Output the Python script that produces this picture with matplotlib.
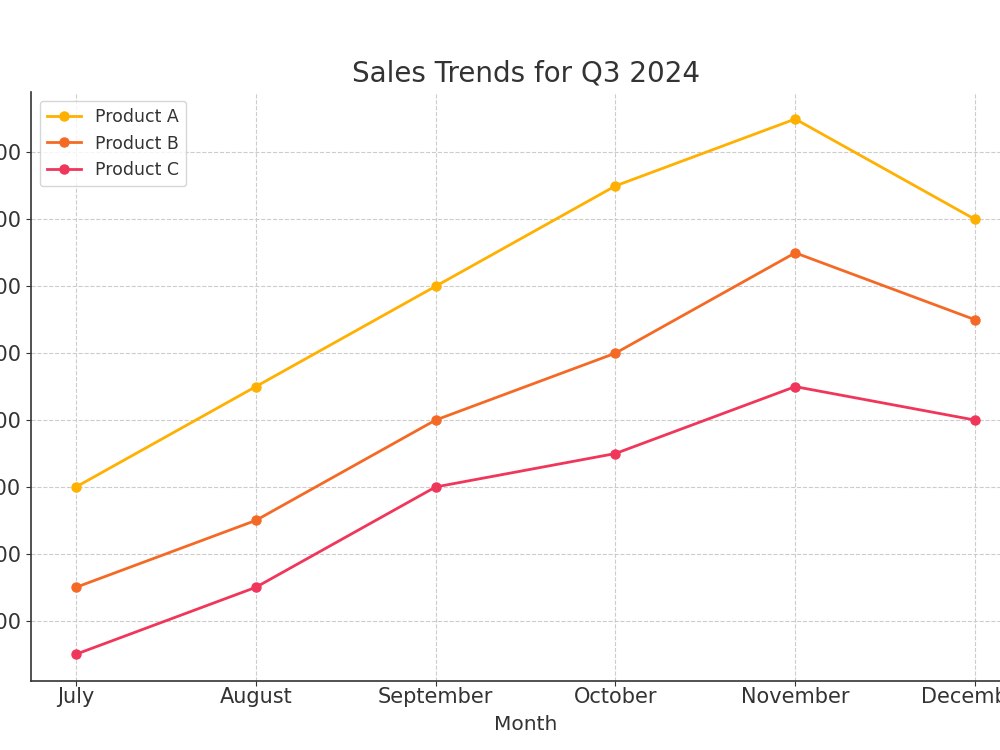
import matplotlib
matplotlib.use("Agg")
import matplotlib.pyplot as plt

# data
months = ["July", "August", "September", "October", "November", "December"]
product_a = [1600, 1900, 2200, 2500, 2700, 2400]
product_b = [1300, 1500, 1800, 2000, 2300, 2100]
product_c = [1100, 1300, 1600, 1700, 1900, 1800]
series_names = ["Product A", "Product B", "Product C"]
series_colors = ["#FFB000", "#F46A25", "#F0365A"]
y_ticks = [1200, 1400, 1600, 1800, 2000, 2200, 2400, 2600]

plt.rcParams["font.family"] = ["DejaVu Sans"]
text_color = "#333333"

fig = plt.figure(figsize=(10, 7.5), dpi=100)
# the reference axes run past the right edge of the canvas
ax = fig.add_axes([0.031, 0.092, 0.989, 0.785])

x = range(len(months))
for name, vals, col in zip(series_names, [product_a, product_b, product_c], series_colors):
    ax.plot(x, vals, marker="o", color=col, linewidth=2, markersize=6.5, label=name)

ax.set_xticks(list(x))
ax.set_xticklabels(months)
ax.set_yticks(y_ticks)
ax.tick_params(axis="both", labelsize=15, colors=text_color)
ax.tick_params(axis="x", pad=0.5)
ax.grid(True, linestyle="--", color="#cccccc", linewidth=0.8)
ax.set_axisbelow(True)
for side in ["top", "right"]:
    ax.spines[side].set_visible(False)
for side in ["left", "bottom"]:
    ax.spines[side].set_color(text_color)
    ax.spines[side].set_linewidth(1.2)

ax.set_title("Sales Trends for Q3 2024", fontsize=20, color=text_color, pad=8)
ax.set_xlabel("Month", fontsize=14.5, color=text_color, labelpad=6)
leg = ax.legend(loc="upper left", fontsize=12.5, frameon=True)
for t in leg.get_texts():
    t.set_color(text_color)

fig.savefig("out.png", dpi=100)
